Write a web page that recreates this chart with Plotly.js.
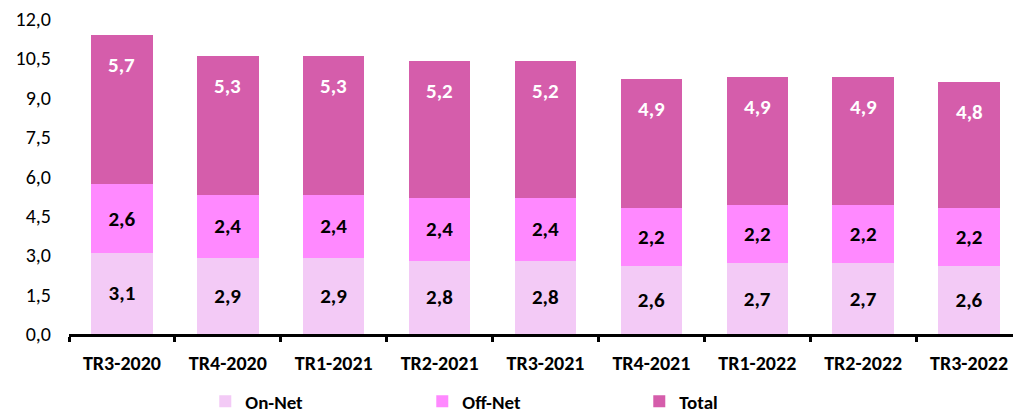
<!DOCTYPE html>
<html>
<head>
<meta charset="utf-8">
<script src="https://cdn.plot.ly/plotly-3.0.1.min.js"></script>
<style>
html,body{margin:0;padding:0;overflow:hidden;background:#fff;}
#chart{width:1022px;height:415px;}
</style>
</head>
<body>
<div id="chart"></div>
<script>
const categories = ['TR3-2020','TR4-2020','TR1-2021','TR2-2021','TR3-2021','TR4-2021','TR1-2022','TR2-2022','TR3-2022'];
const onNet  = [3.1, 2.9, 2.9, 2.8, 2.8, 2.6, 2.7, 2.7, 2.6];
const offNet = [2.6, 2.4, 2.4, 2.4, 2.4, 2.2, 2.2, 2.2, 2.2];
const total  = [5.7, 5.3, 5.3, 5.2, 5.2, 4.9, 4.9, 4.9, 4.8];
const yTicks = [0, 1.5, 3, 4.5, 6, 7.5, 9, 10.5, 12];

const FONT = 'Carlito, Lato, sans-serif';
const fmt = v => v.toFixed(1).replace('.', ',');

const labelFont = {family: FONT, size: 21, color: '#000'};

const traces = [
  {name: 'On-Net', type: 'bar', x: categories, y: onNet,
   marker: {color: '#F3CAF6'},
   texttemplate: '<b>%{y:.1f}</b>', textposition: 'inside', insidetextanchor: 'middle',
   textfont: labelFont, hoverinfo: 'none'},
  {name: 'Off-Net', type: 'bar', x: categories, y: offNet,
   marker: {color: '#FF89FF'},
   texttemplate: '<b>%{y:.1f}</b>', textposition: 'inside', insidetextanchor: 'middle',
   textfont: labelFont, hoverinfo: 'none'},
  {name: 'Total', type: 'bar', x: categories, y: total,
   marker: {color: '#D55DAB'},
   textposition: 'none', hoverinfo: 'none'}
];

const annotations = categories.map((c, i) => ({
  x: c, y: onNet[i] + offNet[i] + total[i], xref: 'x', yref: 'y',
  yanchor: 'top', yshift: -15, showarrow: false,
  text: '<b>' + fmt(total[i]) + '</b>',
  font: {family: FONT, size: 21, color: '#fff'}
}));

const layout = {
  width: 1022, height: 415,
  margin: {l: 69, r: 0, t: 19, b: 81},
  separators: ',.',
  barmode: 'stack',
  bargap: 0.42,
  paper_bgcolor: '#fff', plot_bgcolor: '#fff',
  font: {family: FONT, color: '#000'},
  xaxis: {
    type: 'category', showline: true, linewidth: 3, linecolor: '#000',
    ticks: 'outside', tickson: 'boundaries', ticklen: 5, tickwidth: 3, tickcolor: '#000',
    tickfont: {family: FONT, size: 20, color: '#000', weight: 'bold'},
    ticklabelstandoff: 9, showgrid: false, zeroline: false, automargin: false
  },
  yaxis: {
    range: [0, 12], tickvals: yTicks, tickformat: '.1f',
    showgrid: false, zeroline: false, showline: false, ticks: '',
    tickfont: {family: FONT, size: 20, color: '#000'},
    ticklabelstandoff: 17, automargin: false
  },
  showlegend: true,
  legend: {
    orientation: 'h', x: 0.143, xanchor: 'left',
    yref: 'container', y: 0.033, yanchor: 'middle',
    entrywidth: 172, entrywidthmode: 'pixels',
    font: {family: FONT, size: 19, color: '#000', weight: 'bold'},
    traceorder: 'normal'
  },
  annotations: annotations
};

Plotly.newPlot('chart', traces, layout, {displayModeBar: false, staticPlot: true});
</script>
</body>
</html>
